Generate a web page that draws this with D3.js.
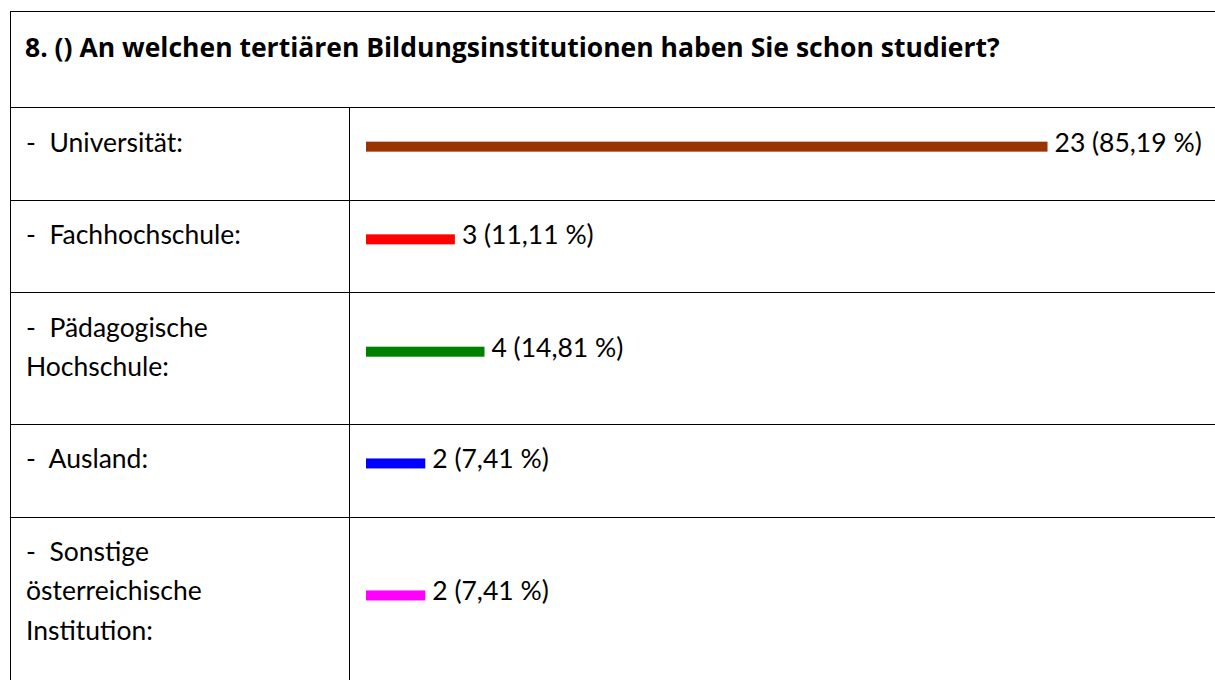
<!DOCTYPE html>
<meta charset="utf-8">
<style>
body { margin: 0; background: #fff; }
svg { display: block; }
.grid line {
  stroke: #000;
  stroke-width: 1;
  shape-rendering: crispEdges;
}
.title {
  font: bold 26.5px "Open Sans", Lato, sans-serif;
  fill: #000;
}
.label, .value {
  font: 26.5px Lato, "Noto Sans", sans-serif;
  fill: #000;
  white-space: pre;
}
</style>
<body>
<svg></svg>
<script src="https://d3js.org/d3.v7.min.js"></script>
<script>

var title = "8. () An welchen tertiären Bildungsinstitutionen haben Sie schon studiert?";

// answer labels, one array entry per printed line
var categories = [
  ["-  Universität:"],
  ["-  Fachhochschule:"],
  ["-  Pädagogische", "Hochschule:"],
  ["-  Ausland:"],
  ["-  Sonstige", "österreichische", "Institution:"]
];
var counts = [23, 3, 4, 2, 2];
var percents = [85.19, 11.11, 14.81, 7.41, 7.41];
var colors = ["#993300", "#ff0000", "#008000", "#0000ff", "#ff00ff"];

var width = 1215,
    height = 680;

var tableLeft = 10,
    tableTop = 11,
    titleH = 96,
    colX = 350,
    lineH = 39.3;

var svg = d3.select("svg")
    .attr("width", width)
    .attr("height", height);

// bar length is proportional to the percentage
var x = d3.scaleLinear()
    .domain([0, 100])
    .range([colX + 16, colX + 816]);

var fmt = function(v) { return d3.format(".2f")(v).replace(".", ","); };

// work out row tops from number of text lines
var rows = [];
var rowTop = tableTop + titleH;
categories.forEach(function(c, i) {
  var h = 54 + 38.7 * c.length;
  rows.push({lines: c, count: counts[i], pct: percents[i], color: colors[i], top: rowTop, h: h});
  rowTop += h;
});

// table lines
var grid = svg.append("g").attr("class", "grid");
var hLines = [tableTop].concat(rows.map(function(r) { return r.top; }));
grid.selectAll(".h")
    .data(hLines)
  .enter().append("line")
    .attr("x1", tableLeft)
    .attr("x2", width)
    .attr("y1", function(d) { return Math.round(d) + 0.5; })
    .attr("y2", function(d) { return Math.round(d) + 0.5; });

grid.append("line")
    .attr("x1", tableLeft + 0.5).attr("x2", tableLeft + 0.5)
    .attr("y1", tableTop).attr("y2", height);

grid.append("line")
    .attr("x1", colX - 0.5).attr("x2", colX - 0.5)
    .attr("y1", tableTop + titleH).attr("y2", height);

svg.append("text")
    .attr("class", "title")
    .attr("x", 25)
    .attr("y", tableTop + 46)
    .text(title);

var row = svg.selectAll(".row")
    .data(rows)
  .enter().append("g")
    .attr("class", "row")
    .attr("transform", function(d) { return "translate(0," + d.top + ")"; });

row.append("text")
    .attr("class", "label")
    .attr("xml:space", "preserve")
    .selectAll("tspan")
    .data(function(d) { return d.lines; })
  .enter().append("tspan")
    .attr("x", 26)
    .attr("y", function(d, i) { return 44.5 + i * lineH; })
    .text(function(d) { return d; });

function barMid(d) { return 20 + lineH * d.lines.length / 2; }

row.append("rect")
    .attr("x", x(0))
    .attr("y", function(d) { return barMid(d) - 5; })
    .attr("width", function(d) { return x(d.pct) - x(0); })
    .attr("height", 10)
    .attr("fill", function(d) { return d.color; });

row.append("text")
    .attr("class", "value")
    .attr("x", function(d) { return x(d.pct) + 7; })
    .attr("y", function(d) { return barMid(d) + 5; })
    .text(function(d) { return d.count + " (" + fmt(d.pct) + " %)"; });

</script>
